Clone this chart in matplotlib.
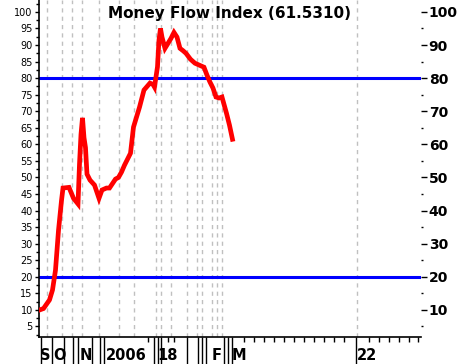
import matplotlib
matplotlib.use("Agg")
import matplotlib.pyplot as plt
import matplotlib.transforms as mtransforms
from matplotlib.ticker import FixedLocator, NullFormatter

# ---- data (session index, Money Flow Index value) ----
session = [0, 3, 7, 9, 11, 13, 15, 16, 20, 23, 26, 27, 28, 29, 30, 31, 32, 34, 37, 40,
           42, 45, 47, 51, 53, 55, 57, 61, 63, 65, 67, 70, 74, 76, 77, 79, 80, 81, 82, 84,
           86, 88, 90, 92, 94, 96, 98, 101, 104, 107, 110, 112, 114, 116, 118, 120, 122,
           125, 127, 129]
mfi = [9.9, 10.4, 13.0, 16.0, 22.0, 34.0, 43.0, 46.8, 47.0, 43.7, 42.0, 54.0, 63.0, 68.0,
       62.0, 59.0, 51.0, 49.2, 47.7, 43.7, 46.2, 46.8, 46.8, 49.5, 50.0, 51.6, 53.7, 57.3,
       65.2, 68.2, 71.2, 76.4, 78.5, 78.1, 77.3, 83.4, 91.5, 95.0, 92.4, 89.0, 90.5, 92.0,
       93.8, 92.4, 89.0, 88.3, 87.5, 85.7, 84.5, 83.9, 83.3, 80.9, 78.8, 77.0, 74.3, 74.0,
       74.3, 69.4, 65.8, 61.531]

levels = [20, 80]
title = "Money Flow Index (61.5310)"

x_labels = ["S", "O", "N", "2006", "18", "F", "M", "22"]
x_label_pos = [0.7, 9.3, 27.3, 44.7, 78.7, 115.3, 128.7, 212.0]
grid_pos = [5.3, 15.3, 22.0, 28.7, 40.0, 53.3, 63.3, 78.0, 81.3, 88.0, 98.7, 105.3,
            108.7, 115.3, 118.7, 122.0, 212.0]
long_ticks = [1.5, 8.7, 16.7, 22.7, 26.0, 35.3, 40.7, 43.3, 76.7, 79.3, 81.3, 98.7,
              106.0, 108.7, 111.3, 123.3, 126.0, 128.7, 211.3]
short_ticks = [72.7, 86.0, 90.0, 136.7, 143.3, 150.0, 156.7, 163.3, 170.0, 176.7, 183.3,
               190.0, 196.7, 203.3, 220.0, 226.7, 233.3, 240.0, 246.7, 252.7]

XMAX = 254.7
YMIN, YMAX = 1.8, 103.6

W, H = 459, 364
fig = plt.figure(figsize=(W / 100, H / 100), dpi=100)
fig.patch.set_facecolor("white")
L, R, T, B = 39, 421, 0, 337
ax = fig.add_axes([L / W, (H - B) / H, (R - L) / W, (B - T) / H])
ax.set_xlim(0, XMAX)
ax.set_ylim(YMIN, YMAX)

for g in grid_pos:
    ax.axvline(g, color="#c0c0c0", lw=1.0, ls=(0, (3, 3)), zorder=1)
for lv in levels:
    ax.axhline(lv, color="#0000ff", lw=2.2, zorder=2)
ax.plot(session, mfi, color="#ff0000", lw=3.4, solid_joinstyle="miter", zorder=3)

ax.text(0.5, 1 - 18 / 337, title, transform=ax.transAxes, ha="center", va="baseline",
        fontsize=11, fontweight="bold", family="DejaVu Sans")

# spines
ax.spines["top"].set_visible(False)
ax.spines["right"].set_visible(False)
for s in ("left", "bottom"):
    ax.spines[s].set_linewidth(1.2)

# left y axis
ax.yaxis.set_major_locator(FixedLocator(list(range(5, 101, 5))))
ax.yaxis.set_minor_locator(FixedLocator([v + 2.5 for v in range(0, 101, 5)]))
ax.tick_params(axis="y", which="major", direction="out", length=3, width=1, labelsize=7, pad=1.5)
ax.tick_params(axis="y", which="minor", direction="out", length=2, width=1)

# x axis ticks
ax.xaxis.set_major_locator(FixedLocator(long_ticks))
ax.xaxis.set_major_formatter(NullFormatter())
ax.xaxis.set_minor_locator(FixedLocator(short_ticks))
ax.tick_params(axis="x", which="major", direction="out", length=19.5, width=1)
ax.tick_params(axis="x", which="minor", direction="out", length=3.5, width=1)

trans = mtransforms.blended_transform_factory(ax.transData, ax.transAxes)
for lab, pos in zip(x_labels, x_label_pos):
    ax.text(pos, -(360 - 337) / 337, lab, transform=trans, ha="left", va="baseline",
            fontsize=10.5, fontweight="bold", family="DejaVu Sans", clip_on=False)

# right y axis
ax2 = ax.twinx()
ax2.set_ylim(YMIN, YMAX)
for s in ax2.spines.values():
    s.set_visible(False)
ax2.yaxis.set_major_locator(FixedLocator(list(range(10, 101, 10))))
ax2.yaxis.set_minor_locator(FixedLocator(list(range(5, 100, 10))))
ax2.tick_params(axis="y", which="major", direction="out", length=4, width=1, pad=1.5,
                labelsize=10)
ax2.tick_params(axis="y", which="minor", direction="out", length=1.5, width=1)
for t in ax2.get_yticklabels():
    t.set_fontweight("bold")

fig.savefig("out.png", dpi=100, facecolor="white")
